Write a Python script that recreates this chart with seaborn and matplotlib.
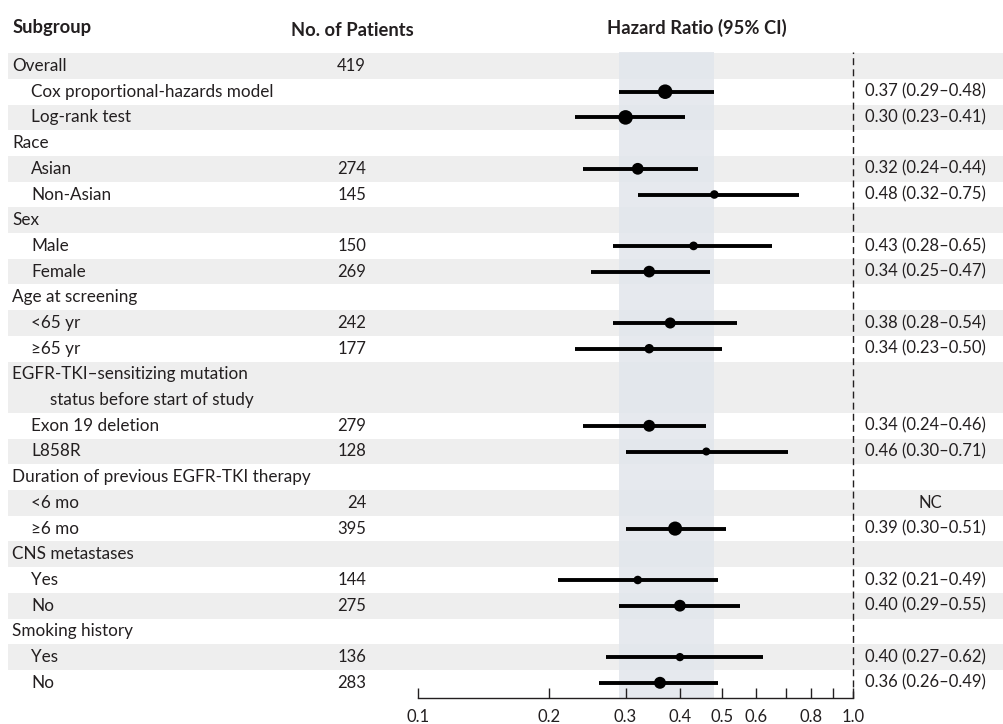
import numpy as np
import pandas as pd
import matplotlib
matplotlib.use('Agg')
import matplotlib.pyplot as plt
import matplotlib.ticker as mticker
import seaborn as sns

sns.set_theme(style='white')
plt.rcParams['font.family'] = ['Lato', 'DejaVu Sans']

# ── data ──────────────────────────────────────────────────────────────────────
labels = ["Overall", "Cox proportional-hazards model", "Log-rank test",
          "Race", "Asian", "Non-Asian",
          "Sex", "Male", "Female",
          "Age at screening", "<65 yr", "≥65 yr",
          "EGFR-TKI–sensitizing mutation", "status before start of study",
          "Exon 19 deletion", "L858R",
          "Duration of previous EGFR-TKI therapy", "<6 mo", "≥6 mo",
          "CNS metastases", "Yes", "No",
          "Smoking history", "Yes", "No"]
level = [0, 1, 1, 0, 1, 1, 0, 1, 1, 0, 1, 1, 0, 2, 1, 1, 0, 1, 1, 0, 1, 1, 0, 1, 1]
patients = [419, None, None, None, 274, 145, None, 150, 269, None, 242, 177,
            None, None, 279, 128, None, 24, 395, None, 144, 275, None, 136, 283]
# marker weight: the two overall models use the full 419 patients
marker_n = [np.nan, 419, 419, np.nan, 274, 145, np.nan, 150, 269, np.nan, 242, 177,
            np.nan, np.nan, 279, 128, np.nan, 24, 395, np.nan, 144, 275, np.nan, 136, 283]
nan = np.nan
hr = [nan, 0.37, 0.30, nan, 0.32, 0.48, nan, 0.43, 0.34, nan, 0.38, 0.34,
      nan, nan, 0.34, 0.46, nan, nan, 0.39, nan, 0.32, 0.40, nan, 0.40, 0.36]
ci_lo = [nan, 0.29, 0.23, nan, 0.24, 0.32, nan, 0.28, 0.25, nan, 0.28, 0.23,
         nan, nan, 0.24, 0.30, nan, nan, 0.30, nan, 0.21, 0.29, nan, 0.27, 0.26]
ci_hi = [nan, 0.48, 0.41, nan, 0.44, 0.75, nan, 0.65, 0.47, nan, 0.54, 0.50,
         nan, nan, 0.46, 0.71, nan, nan, 0.51, nan, 0.49, 0.55, nan, 0.62, 0.49]
shaded = [1, 0, 1, 0, 1, 0, 1, 0, 1, 0, 1, 0, 1, 1, 0, 1, 0, 1, 0, 1, 0, 1, 0, 1, 0]

tick_vals = [0.1, 0.2, 0.3, 0.4, 0.5, 0.6, 0.7, 0.8, 0.9, 1.0]
tick_labels = ["0.1", "0.2", "0.3", "0.4", "0.5", "0.6", "", "0.8", "", "1.0"]

df = pd.DataFrame({'label': labels, 'level': level, 'n': patients,
                   'marker_n': marker_n, 'hr': hr, 'lo': ci_lo, 'hi': ci_hi,
                   'shaded': shaded})
df['row'] = np.arange(len(df))

# ── layout (pixels) ───────────────────────────────────────────────────────────
W, H = 1004, 724
ROW0, ROWH = 66, 25.7
TXT = '#231f20'
FS = 12.3      # row labels
FS_NUM = 12    # numbers
FS_HEAD = 13.2


def px2row(y):
    return (y - ROW0) / ROWH


fig = plt.figure(figsize=(W / 100, H / 100), dpi=100)

bg = fig.add_axes([0, 0, 1, 1])
bg.set_xlim(0, W)
bg.set_ylim(px2row(H), px2row(0))
bg.axis('off')

for r, s in zip(df.row, df.shaded):
    if s:
        bg.axhspan(r - 0.5, r + 0.5, xmin=8 / W, xmax=1, color='#eeeeee', lw=0)

bg.text(13, px2row(28), "Subgroup", fontsize=FS_HEAD, fontweight='bold', color=TXT, va='center')
bg.text(352, px2row(30), "No. of Patients", fontsize=FS_HEAD, fontweight='bold', color=TXT,
        va='center', ha='center')
bg.text(697, px2row(28), "Hazard Ratio (95% CI)", fontsize=FS_HEAD, fontweight='bold', color=TXT,
        va='center', ha='center')

indent = {0: 12, 1: 31, 2: 50}
for _, d in df.iterrows():
    bg.text(indent[d.level], d.row, d.label, fontsize=FS, color=TXT, va='center')
    if pd.notna(d.n):
        bg.text(366, d.row, f"{int(d.n)}", fontsize=FS_NUM, color=TXT, va='center', ha='right')
    if pd.notna(d.hr):
        bg.text(865, d.row, f"{d.hr:.2f} ({d.lo:.2f}–{d.hi:.2f})", fontsize=FS_NUM,
                color=TXT, va='center')
    elif d.level > 0 and pd.notna(d.n):
        bg.text(930, d.row, "NC", fontsize=FS_NUM, color=TXT, va='center', ha='center')

# ── forest panel ──────────────────────────────────────────────────────────────
ax = fig.add_axes([418 / W, (H - 698) / H, 435 / W, (698 - 52) / H])
ax.patch.set_alpha(0)
ax.set_xscale('log')
ax.set_xlim(0.1, 1.0)
ax.set_ylim(px2row(698), px2row(52))

ax.axvspan(df.lo[1], df.hi[1], color='#e2e6ec', alpha=0.85, lw=0, zorder=0)
ax.axvline(1.0, color=TXT, lw=1, ls=(0, (5, 3)), zorder=1, clip_on=False)

est = df.dropna(subset=['hr'])
ax.hlines(est.row, est.lo, est.hi, color='black', lw=2.8, zorder=2)
sns.scatterplot(data=est, x='hr', y='row', size='marker_n', sizes=(0, 110),
                size_norm=(0, 419), color='black', edgecolor='none',
                legend=False, ax=ax, zorder=3)

for side in ['top', 'right', 'left']:
    ax.spines[side].set_visible(False)
ax.spines['bottom'].set_color(TXT)
ax.spines['bottom'].set_linewidth(1)
ax.xaxis.set_minor_locator(mticker.NullLocator())
ax.set_xticks(tick_vals)
ax.set_xticklabels(tick_labels)
ax.tick_params(axis='x', direction='in', length=7, width=1, color=TXT,
               labelsize=FS_NUM, labelcolor=TXT, pad=8, bottom=True)
ax.set_yticks([])
ax.set_xlabel('')
ax.set_ylabel('')

plt.savefig('out.png', dpi=100)
plt.close()
